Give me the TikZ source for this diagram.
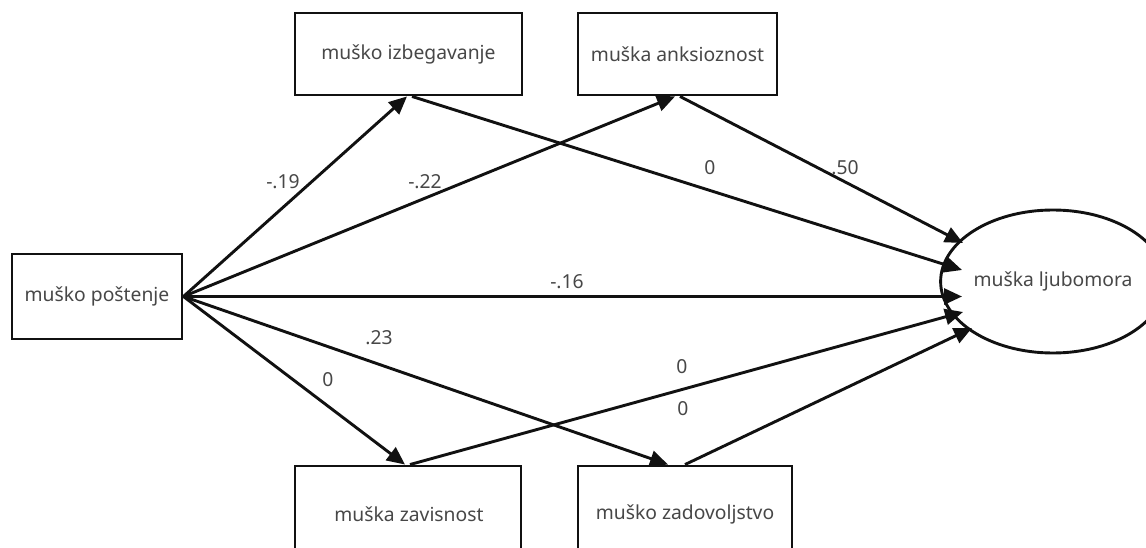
\documentclass[tikz,border=0pt]{standalone}
\usepackage{fontspec}
\setmainfont{Noto Sans}
\usetikzlibrary{arrows.meta,shapes.geometric,calc}
\definecolor{txt}{HTML}{474747}
\definecolor{ln}{HTML}{111111}
\tikzset{
  box/.style={draw=ln,line width=2.9pt,fill=white,inner sep=0pt,text=txt,font=\fontsize{19.3}{22}\selectfont},
  oval/.style={ellipse,draw=ln,line width=2.9pt,fill=white,inner sep=0pt,text=txt,font=\fontsize{19.3}{22}\selectfont},
  arr/.style={draw=ln,line width=2.9pt,-{Triangle[length=18pt,width=16pt]}},
  lbl/.style={text=txt,font=\fontsize{19.3}{22}\selectfont,inner sep=0pt}
}
\begin{document}
\begin{tikzpicture}[x=1pt,y=-1pt]
\useasboundingbox (0,0) rectangle (1146,548);
\clip (0,0) rectangle (1146,548);
\fill[white] (0,0) rectangle (1146,548);
% nodes
\node[box,minimum width=170pt,minimum height=85pt] (p) at (97,296.5) {muško poštenje};
\node[box,minimum width=227pt,minimum height=82pt] (iz) at (408.5,54) {muško izbegavanje};
\node[box,minimum width=199pt,minimum height=82pt] (an) at (677.5,54) {muška anksioznost};
\node[box,minimum width=226pt,minimum height=90pt] (za) at (408,511) {};
\node[lbl] (zat) at (409,514) {muška zavisnost};
\node[box,minimum width=214pt,minimum height=90pt] (zd) at (685,511) {};
\node[lbl] (zdt) at (685,514) {muško zadovoljstvo};
\node[oval,minimum width=184pt,minimum height=143pt] (lj) at (1053,281.5) {muška ljubomora};
% anchor points
\coordinate (izin) at ($(iz.south)+(-1.5,0)$);
\coordinate (izout) at ($(iz.south)+(3.5,0)$);
\coordinate (anin) at ($(an.south)+(-2.5,0)$);
\coordinate (anout) at ($(an.south)+(2.5,0)$);
\coordinate (zain) at ($(za.north)+(-3,0)$);
\coordinate (zaout) at ($(za.north)+(2,0)$);
\coordinate (zdin) at ($(zd.north)+(-17,0)$);
\coordinate (zdout) at ($(zd.north)+(0,0)$);
\coordinate (e1) at (963,243);
\coordinate (e2) at (962,270);
\coordinate (e3) at (962,296.5);
\coordinate (e4) at (963,312);
\coordinate (e5) at (972,328);
% connectors
\draw[arr] (p.east) -- (izin);
\draw[arr] (p.east) -- (anin);
\draw[arr] (p.east) -- (e3);
\draw[arr] (p.east) -- (zain);
\draw[arr] (p.east) -- (zdin);
\draw[arr] (izout) -- (e2);
\draw[arr] (anout) -- (e1);
\draw[arr] (zaout) -- (e4);
\draw[arr] (zdout) -- (e5);
% labels
\node[lbl] (l1) at (283,182) {-.19};
\node[lbl] (l2) at (425,182) {-.22};
\node[lbl] (l3) at (710,168) {0};
\node[lbl] (l4) at (845,168) {.50};
\node[lbl] (l5) at (567,282) {-.16};
\node[lbl] (l6) at (379,338) {.23};
\node[lbl] (l7) at (328,380) {0};
\node[lbl] (l8) at (682,367) {0};
\node[lbl] (l9) at (683,409) {0};
\end{tikzpicture}
\end{document}
